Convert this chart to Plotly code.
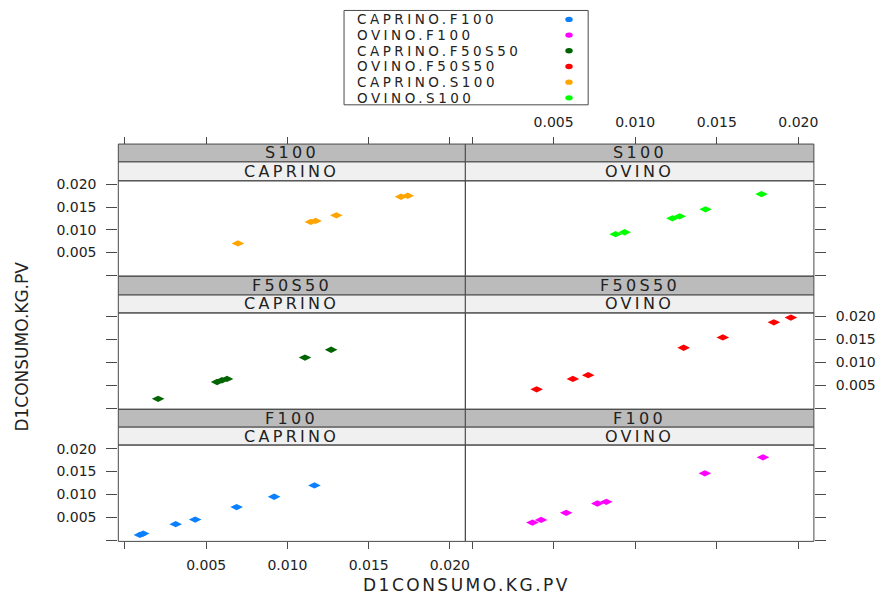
import plotly.graph_objects as go

W, H = 885, 599

# ---------------- data ----------------
species = ["CAPRINO", "OVINO"]
treatments = ["S100", "F50S50", "F100"]          # panel rows, top to bottom
legend_groups = ["CAPRINO.F100", "OVINO.F100", "CAPRINO.F50S50",
                 "OVINO.F50S50", "CAPRINO.S100", "OVINO.S100"]
group_colors = ["#0A80FF", "#FF00FF", "#006400", "#FF0000", "#FFA500", "#00FF00"]

caprino_s100_x = [0.00695, 0.01144, 0.01173, 0.01301, 0.01699, 0.01740]
caprino_s100_y = [0.00697, 0.01173, 0.01195, 0.01318, 0.01728, 0.01750]
ovino_s100_x = [0.00880, 0.00935, 0.01228, 0.01273, 0.01431, 0.01774]
ovino_s100_y = [0.00901, 0.00945, 0.01252, 0.01296, 0.01450, 0.01787]
caprino_f50s50_x = [0.00204, 0.00567, 0.00597, 0.00628, 0.01108, 0.01269]
caprino_f50s50_y = [0.00204, 0.00571, 0.00609, 0.00637, 0.01105, 0.01275]
ovino_f50s50_x = [0.00396, 0.00618, 0.00712, 0.01297, 0.01537, 0.01850, 0.01954]
ovino_f50s50_y = [0.00411, 0.00637, 0.00719, 0.01319, 0.01545, 0.01875, 0.01978]
caprino_f100_x = [0.00092, 0.00112, 0.00312, 0.00432, 0.00687, 0.00918, 0.01166]
caprino_f100_y = [0.00116, 0.00145, 0.00351, 0.00452, 0.00724, 0.00950, 0.01197]
ovino_f100_x = [0.00370, 0.00423, 0.00577, 0.00768, 0.00823, 0.01427, 0.01783]
ovino_f100_y = [0.00386, 0.00445, 0.00599, 0.00803, 0.00840, 0.01461, 0.01811]

tick_vals = [0.0, 0.005, 0.010, 0.015, 0.020]
tick_text = ["", "0.005", "0.010", "0.015", "0.020"]
axis_title = "D1CONSUMO.KG.PV"

series = {
    ("CAPRINO", "S100"): (caprino_s100_x, caprino_s100_y),
    ("OVINO", "S100"): (ovino_s100_x, ovino_s100_y),
    ("CAPRINO", "F50S50"): (caprino_f50s50_x, caprino_f50s50_y),
    ("OVINO", "F50S50"): (ovino_f50s50_x, ovino_f50s50_y),
    ("CAPRINO", "F100"): (caprino_f100_x, caprino_f100_y),
    ("OVINO", "F100"): (ovino_f100_x, ovino_f100_y),
}

# ---------------- layout geometry ----------------
x_range = [-0.00041, 0.02095]
y_range = [-0.00025, 0.0208]
col_px = [(119, 468), (468, 818.5)]
row_px = [
    dict(dark=(141, 159), light=(159, 178), plot=(178, 274)),
    dict(dark=(274, 293), light=(293, 311), plot=(311, 408)),
    dict(dark=(408, 426), light=(426, 444), plot=(444, 541)),
]
FONT = "DejaVu Sans"
TXT = "#222222"
BORDER = "#4a4a4a"


def fx(p):
    return p / W


def fy(p):
    return 1 - p / H


def wide(t, ls):
    return f'<span style="letter-spacing:{ls}px">{t}</span>'


fig = go.Figure()
shapes, annotations, axes = [], [], {}
tickfont = dict(family=FONT, size=14, color=TXT)

for r, trt in enumerate(treatments):
    rp = row_px[r]
    for c, sp in enumerate(species):
        n = r * 2 + c + 1
        xname = "x" if n == 1 else f"x{n}"
        yname = "y" if n == 1 else f"y{n}"
        xkey = "xaxis" if n == 1 else f"xaxis{n}"
        ykey = "yaxis" if n == 1 else f"yaxis{n}"
        gi = legend_groups.index(f"{sp}.{trt}")
        xs, ys = series[(sp, trt)]
        fig.add_trace(go.Scatter(
            x=xs, y=ys, mode="markers", xaxis=xname, yaxis=yname,
            marker=dict(color=group_colors[gi], symbol="diamond-wide", size=9,
                        line=dict(width=0)),
            name=legend_groups[gi], showlegend=False))

        x0, x1 = col_px[c]
        ptop, pbot = rp["plot"]
        xa = dict(range=x_range, domain=[fx(x0), fx(x1)], showgrid=False,
                  zeroline=False, showline=False, tickvals=tick_vals,
                  ticktext=tick_text, tickfont=tickfont, ticklen=7,
                  tickcolor=BORDER, tickwidth=1, ticklabelstandoff=4,
                  fixedrange=True)
        if r == 0:
            xa.update(anchor="free", position=fy(rp["dark"][0]), side="top",
                      ticks="outside", showticklabels=(c == 1))
        elif r == 1:
            xa.update(anchor=yname, ticks="", showticklabels=False)
        else:
            xa.update(anchor=yname, side="bottom", ticks="outside",
                      showticklabels=(c == 0))
        axes[xkey] = xa

        ya = dict(range=y_range, domain=[fy(pbot), fy(ptop)], anchor=xname,
                  showgrid=False, zeroline=False, showline=False,
                  tickvals=tick_vals, ticktext=tick_text, tickfont=tickfont,
                  ticks="outside", ticklen=11, tickcolor=BORDER, tickwidth=1,
                  ticklabelstandoff=7, side="left" if c == 0 else "right",
                  showticklabels=(c == 0 and r != 1) or (c == 1 and r == 1),
                  fixedrange=True)
        axes[ykey] = ya

        # strips
        for key, fill, label in (("dark", "#BBBBBB", trt), ("light", "#F0F0F0", sp)):
            s0, s1 = rp[key]
            shapes.append(dict(type="rect", xref="paper", yref="paper",
                               x0=fx(x0), x1=fx(x1), y0=fy(s1), y1=fy(s0),
                               fillcolor=fill, line=dict(color=BORDER, width=1),
                               layer="below"))
            annotations.append(dict(x=fx((x0 + x1) / 2), y=fy((s0 + s1) / 2),
                                    xref="paper", yref="paper", text=wide(label, 3.3),
                                    showarrow=False, xanchor="center", yanchor="middle",
                                    borderpad=0,
                                    font=dict(family=FONT, size=16, color=TXT)))
        # panel border
        shapes.append(dict(type="rect", xref="paper", yref="paper",
                           x0=fx(x0), x1=fx(x1), y0=fy(pbot), y1=fy(ptop),
                           line=dict(color=BORDER, width=1), layer="above"))

# axis titles
annotations.append(dict(x=fx(469), y=fy(585), xref="paper", yref="paper",
                        text=wide(axis_title, 2.5), showarrow=False, xanchor="center",
                        yanchor="middle", font=dict(family=FONT, size=17, color=TXT)))
annotations.append(dict(x=fx(22), y=fy(345), xref="paper", yref="paper",
                        text=axis_title, showarrow=False, textangle=-90,
                        xanchor="center", yanchor="middle",
                        font=dict(family=FONT, size=17, color=TXT)))

# legend (key box)
shapes.append(dict(type="rect", xref="paper", yref="paper", x0=fx(346), x1=fx(591.5),
                   y0=fy(101.5), y1=fy(6.5), line=dict(color=BORDER, width=1),
                   fillcolor="white"))
for i, (g, col) in enumerate(zip(legend_groups, group_colors)):
    yc = 15.5 + i * 15.8
    annotations.append(dict(x=fx(358), y=fy(yc), xref="paper", yref="paper",
                            text=wide(g, 3.5), showarrow=False, xanchor="left",
                            yanchor="middle", borderpad=0,
                            font=dict(family=FONT, size=13.5, color=TXT)))
    shapes.append(dict(type="circle", xref="paper", yref="paper",
                       x0=fx(568.5), x1=fx(576), y0=fy(yc + 2.7), y1=fy(yc - 2.7),
                       fillcolor=col, line=dict(width=0)))

fig.update_layout(
    width=W, height=H, autosize=False,
    margin=dict(l=0, r=0, t=0, b=0, pad=0),
    paper_bgcolor="white", plot_bgcolor="white",
    showlegend=False, shapes=shapes, annotations=annotations,
    font=dict(family=FONT, color=TXT),
    **axes,
)

fig.write_html("out.html", config={"displayModeBar": False},
               post_script="document.body.style.margin='0';"
                           "document.body.style.overflow='hidden';")
